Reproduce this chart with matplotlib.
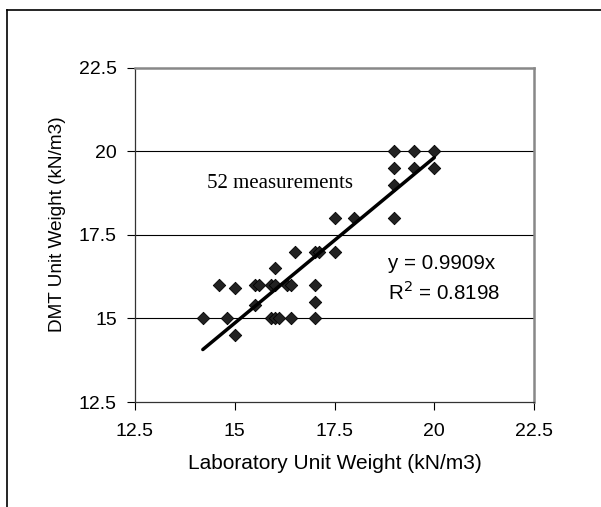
import matplotlib
matplotlib.use("Agg")
import matplotlib.pyplot as plt
import numpy as np
from matplotlib.lines import Line2D

# measured points (many of the 52 overlap)
lab_weight = [14.2, 14.6, 14.8, 15.0, 15.0, 15.5, 15.6, 15.5, 15.9, 16.0, 16.1, 16.4,
              17.0, 15.9, 16.0, 16.0, 16.3, 16.4, 16.5, 17.0, 17.1, 17.0, 17.0, 17.5,
              17.5, 18.0, 19.0, 19.0, 19.0, 19.0, 19.5, 19.5, 20.0, 20.0]
dmt_weight = [15.0, 16.0, 15.0, 15.9, 14.5, 16.0, 16.0, 15.4, 15.0, 15.0, 15.0, 15.0,
              15.0, 16.0, 16.0, 16.5, 16.0, 16.0, 17.0, 17.0, 17.0, 16.0, 15.5, 17.0,
              18.0, 18.0, 18.0, 20.0, 19.5, 19.0, 20.0, 19.5, 20.0, 19.5]
slope = 0.9909
r_squared = 0.8198
ticks = [12.5, 15, 17.5, 20, 22.5]

plt.rcParams["font.family"] = ["Liberation Sans", "DejaVu Sans"]

fig = plt.figure(figsize=(6.01, 5.07), dpi=100)
ax = fig.add_axes([0.2246, 0.2071, 0.664, 0.6588])

ax.scatter(lab_weight, dmt_weight, marker="D", s=40, color="#222222",
           edgecolor="black", linewidth=0.6, zorder=3)

x_fit = np.array([min(lab_weight), max(lab_weight)])
ax.plot(x_fit, slope * x_fit, color="black", linewidth=2.5,
        solid_capstyle="round", zorder=4)

ax.set_xlim(12.5, 22.5)
ax.set_ylim(12.5, 22.5)
ax.set_xticks(ticks)
ax.set_yticks(ticks)
ax.set_xticklabels([f"{t:g}" for t in ticks])
ax.set_yticklabels([f"{t:g}" for t in ticks])
ax.tick_params(axis="both", direction="out", length=6, width=0.8,
               labelsize=14, colors="black")
ax.tick_params(axis="x", pad=9)
ax.tick_params(axis="y", pad=7)

for y in ticks[1:-1]:
    ax.axhline(y, color="black", linewidth=0.8, zorder=1)

ax.spines["left"].set_color("#333333")
ax.spines["bottom"].set_color("#333333")
ax.spines["left"].set_linewidth(0.9)
ax.spines["bottom"].set_linewidth(0.9)
for side in ("top", "right"):
    ax.spines[side].set_color("#888888")
    ax.spines[side].set_linewidth(1.8)

ax.set_xlabel("Laboratory Unit Weight (kN/m3)", fontsize=15, labelpad=10)
ax.set_ylabel("DMT Unit Weight (kN/m3)", fontsize=13.7)
ax.yaxis.set_label_coords(-0.172, 0.533)

ax.text(14.3, 19.05, "52 measurements", fontsize=15, va="center", ha="left",
        family=["Liberation Serif", "DejaVu Serif"])
ax.text(18.85, 16.65, f"y = {slope:.4f}x", fontsize=14.8, va="center", ha="left")
ax.text(18.85, 15.8, f"R$^2$ = {r_squared:.4f}", fontsize=14.8, va="center", ha="left")

# frame of the cropped figure (top and left edges only)
fig.add_artist(Line2D([7 / 601, 1], [1 - 10 / 507, 1 - 10 / 507],
                      transform=fig.transFigure, color="black", linewidth=1.2))
fig.add_artist(Line2D([7 / 601, 7 / 601], [0, 1 - 10 / 507],
                      transform=fig.transFigure, color="black", linewidth=1.2))

fig.savefig("out.png", dpi=100)
plt.close(fig)
